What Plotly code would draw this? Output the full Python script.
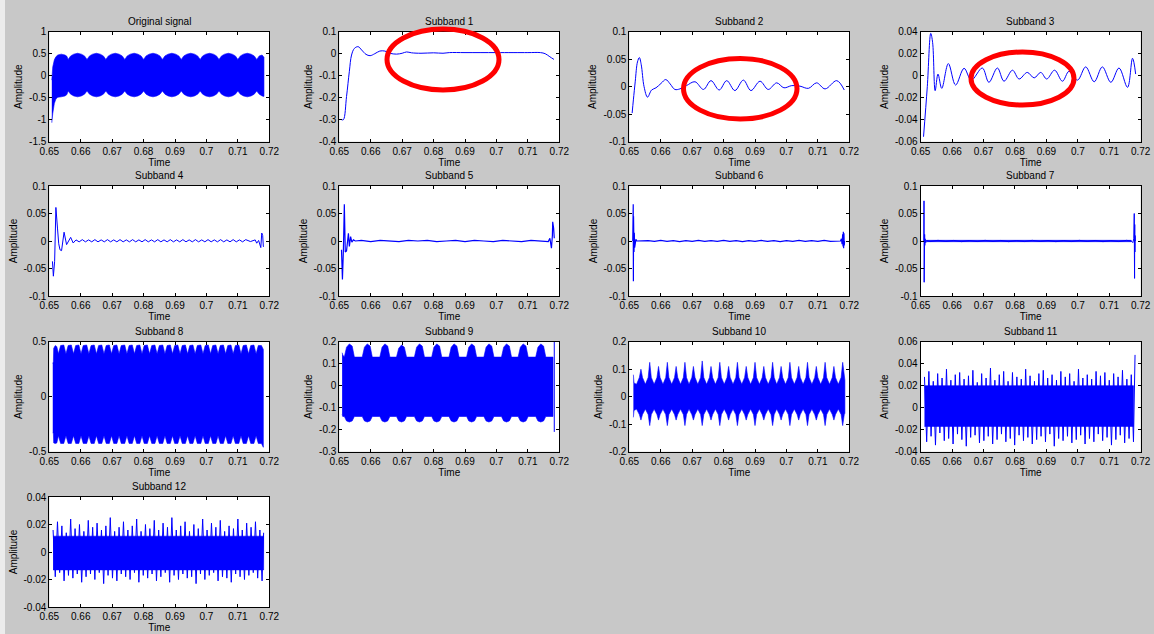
import plotly.graph_objects as go

W, H = 1154, 634
BLUE = "#0000ff"
FONT = "Liberation Sans, Arial, sans-serif"

titles = ["Original signal", "Subband 1", "Subband 2", "Subband 3", "Subband 4", "Subband 5",
          "Subband 6", "Subband 7", "Subband 8", "Subband 9", "Subband 10", "Subband 11", "Subband 12"]
x_ticks = [0.65, 0.66, 0.67, 0.68, 0.69, 0.70, 0.71, 0.72]
x_ticktext = ["0.65", "0.66", "0.67", "0.68", "0.69", "0.7", "0.71", "0.72"]
y_ticks = [
    [-1.5, -1, -0.5, 0, 0.5, 1],
    [-0.4, -0.3, -0.2, -0.1, 0, 0.1],
    [-0.1, -0.05, 0, 0.05, 0.1],
    [-0.06, -0.04, -0.02, 0, 0.02, 0.04],
    [-0.1, -0.05, 0, 0.05, 0.1],
    [-0.1, -0.05, 0, 0.05, 0.1],
    [-0.1, -0.05, 0, 0.05, 0.1],
    [-0.1, -0.05, 0, 0.05, 0.1],
    [-0.5, 0, 0.5],
    [-0.3, -0.2, -0.1, 0, 0.1, 0.2],
    [-0.2, -0.1, 0, 0.1, 0.2],
    [-0.04, -0.02, 0, 0.02, 0.04, 0.06],
    [-0.04, -0.02, 0, 0.02, 0.04],
]

# ---------------- data ----------------
orig_t = [0.6508, 0.6511, 0.6516, 0.6521, 0.6527, 0.6538, 0.6550, 0.6556,
          0.6560, 0.6568, 0.6578, 0.6590, 0.6602, 0.6612,
          0.6620, 0.6628, 0.6638, 0.6650, 0.6662, 0.6672,
          0.6680, 0.6688, 0.6698, 0.6710, 0.6722, 0.6732,
          0.6740, 0.6748, 0.6758, 0.6770, 0.6782, 0.6792,
          0.6800, 0.6808, 0.6818, 0.6830, 0.6842, 0.6852,
          0.6860, 0.6868, 0.6878, 0.6890, 0.6902, 0.6912,
          0.6920, 0.6928, 0.6938, 0.6950, 0.6962, 0.6972,
          0.6980, 0.6988, 0.6998, 0.7010, 0.7022, 0.7032,
          0.7040, 0.7048, 0.7058, 0.7070, 0.7082, 0.7092,
          0.7100, 0.7108, 0.7118, 0.7130, 0.7142, 0.7152,
          0.7160, 0.7168, 0.7177, 0.7183]
orig_up = [-0.10, 0.20, 0.36, 0.43, 0.47, 0.49, 0.47, 0.44,
           0.37, 0.45, 0.49, 0.51, 0.49, 0.45,
           0.37, 0.45, 0.49, 0.51, 0.49, 0.45,
           0.37, 0.45, 0.49, 0.51, 0.49, 0.45,
           0.37, 0.45, 0.49, 0.51, 0.49, 0.45,
           0.37, 0.45, 0.49, 0.51, 0.49, 0.45,
           0.37, 0.45, 0.49, 0.51, 0.49, 0.45,
           0.37, 0.45, 0.49, 0.51, 0.49, 0.45,
           0.37, 0.45, 0.49, 0.51, 0.49, 0.45,
           0.37, 0.45, 0.49, 0.51, 0.49, 0.45,
           0.37, 0.45, 0.49, 0.51, 0.49, 0.45,
           0.37, 0.45, 0.47, 0.42]
orig_lo = [-1.07, -0.86, -0.63, -0.53, -0.49, -0.48, -0.46, -0.43,
           -0.35, -0.42, -0.46, -0.48, -0.46, -0.42,
           -0.35, -0.42, -0.46, -0.48, -0.46, -0.42,
           -0.35, -0.42, -0.46, -0.48, -0.46, -0.42,
           -0.35, -0.42, -0.46, -0.48, -0.46, -0.42,
           -0.35, -0.42, -0.46, -0.48, -0.46, -0.42,
           -0.35, -0.42, -0.46, -0.48, -0.46, -0.42,
           -0.35, -0.42, -0.46, -0.48, -0.46, -0.42,
           -0.35, -0.42, -0.46, -0.48, -0.46, -0.42,
           -0.35, -0.42, -0.46, -0.48, -0.46, -0.42,
           -0.35, -0.42, -0.46, -0.48, -0.46, -0.42,
           -0.35, -0.42, -0.46, -0.47]

sb1_t = [0.6507, 0.6513, 0.6523, 0.6532, 0.6539, 0.6548, 0.6560, 0.6571, 0.6585, 0.6598,
         0.6613, 0.6629, 0.6645, 0.6661, 0.6682, 0.6700, 0.6714, 0.6730, 0.6760, 0.6800,
         0.6830, 0.6850, 0.6900, 0.7000, 0.7100, 0.7140, 0.7155, 0.7170, 0.7183]
sb1_v = [-0.30, -0.30, -0.195, -0.08, -0.006, 0.024, 0.032, 0.017, -0.003, -0.009,
         0.000, 0.012, 0.012, 0.002, -0.002, 0.002, 0.008, 0.004, 0.002, 0.004,
         0.002, 0.005, 0.005, 0.005, 0.005, 0.005, 0.000, -0.014, -0.026]

sb2_t = [0.6509, 0.6513, 0.6519, 0.6526, 0.6532, 0.6538, 0.6547, 0.6558, 0.6571, 0.6585,
         0.6601, 0.6616, 0.6630, 0.6645, 0.6661, 0.6682, 0.6709, 0.6736, 0.6760, 0.6786,
         0.6810, 0.6836, 0.6863, 0.6887, 0.6916, 0.6942, 0.6969, 0.6992, 0.7017, 0.7043,
         0.7070, 0.7096, 0.7123, 0.7160, 0.7184]
sb2_v = [-0.048, -0.024, 0.010, 0.045, 0.053, 0.040, 0.000, -0.019, -0.006, -0.002,
         0.006, 0.013, 0.005, -0.005, -0.004, 0.002, 0.009, -0.005, 0.011, -0.006,
         0.011, -0.007, 0.012, -0.007, 0.010, -0.005, 0.007, -0.002, 0.002, 0.001,
         -0.003, 0.007, -0.004, 0.011, -0.006]

sb3_t = [0.6509, 0.6521, 0.6532, 0.6538, 0.6546, 0.6555, 0.6567, 0.6588, 0.6611, 0.6638,
         0.6661, 0.6696, 0.6717, 0.6744, 0.6765, 0.6792, 0.6813, 0.6839, 0.6861, 0.6882,
         0.6901, 0.6926, 0.6951, 0.6972, 0.6999, 0.7025, 0.7052, 0.7078, 0.7105, 0.7131,
         0.7158, 0.7174, 0.7184]
sb3_v = [-0.0555, -0.010, 0.0385, 0.030, -0.0136, 0.0015, -0.0115, 0.011, -0.0085, 0.0067,
         -0.004, 0.007, -0.006, 0.007, -0.005, 0.005, -0.003, 0.003, -0.002, 0.003,
         -0.003, 0.005, -0.005, 0.004, -0.004, 0.008, -0.0055, 0.008, -0.006, 0.007,
         -0.0106, 0.0158, 0.0015]

sb4_t = [0.6510, 0.6513, 0.6517, 0.6521, 0.6526, 0.6530, 0.6534, 0.6539, 0.6547, 0.6555,
         0.6568, 0.6576,
         0.6585, 0.6595, 0.6605, 0.6615, 0.6625, 0.6635, 0.6645, 0.6655, 0.6665, 0.6675,
         0.6685, 0.6695, 0.6705, 0.6715, 0.6725, 0.6735, 0.6745, 0.6755, 0.6765, 0.6775,
         0.6785, 0.6795, 0.6805, 0.6815, 0.6825, 0.6835, 0.6845, 0.6855, 0.6865, 0.6875,
         0.6885, 0.6895, 0.6905, 0.6915, 0.6925, 0.6935, 0.6945, 0.6955, 0.6965, 0.6975,
         0.6985, 0.6995, 0.7005, 0.7015, 0.7025, 0.7035, 0.7045, 0.7055, 0.7065, 0.7075,
         0.7085, 0.7095, 0.7105, 0.7115, 0.7125,
         0.7140, 0.7155, 0.7160, 0.7166, 0.7170, 0.7173, 0.7176, 0.7179, 0.7181, 0.7183]
sb4_v = [-0.037, -0.064, -0.037, 0.061, 0.0235, -0.005, -0.016, -0.0175, 0.016, -0.0066,
         0.0066, -0.0036,
         0.002, -0.0015, 0.0025, -0.0015, 0.002, -0.0015, 0.0025, -0.0015, 0.002, -0.0015,
         0.0025, -0.0015, 0.002, -0.0015, 0.0025, -0.0015, 0.002, -0.0015, 0.0025, -0.0015,
         0.002, -0.0015, 0.0025, -0.0015, 0.002, -0.0015, 0.0025, -0.0015, 0.002, -0.0015,
         0.0025, -0.0015, 0.002, -0.0015, 0.0025, -0.0015, 0.002, -0.0015, 0.0025, -0.0015,
         0.002, -0.0015, 0.0025, -0.0015, 0.002, -0.0015, 0.0025, -0.0015, 0.002, -0.0015,
         0.0025, -0.0015, 0.002, -0.0015, 0.0025,
         -0.001, 0.002, -0.004, 0.001, -0.010, -0.012, 0.0145, 0.010, -0.010, -0.010]

sb5_t = [0.6507, 0.6510, 0.6513, 0.6516, 0.6519, 0.6523, 0.6529, 0.6532, 0.6536, 0.6540,
         0.6545, 0.6551,
         0.6570, 0.6600, 0.6630, 0.6660, 0.6690, 0.6720, 0.6750, 0.6780, 0.6810, 0.6840,
         0.6870, 0.6900, 0.6930, 0.6960, 0.6990, 0.7020, 0.7050, 0.7080, 0.7110, 0.7140,
         0.7160, 0.7165, 0.7170, 0.7175, 0.7178, 0.7179, 0.7182, 0.7184]
sb5_v = [-0.016, -0.070, -0.017, 0.067, -0.020, -0.018, 0.014, -0.010, 0.008, -0.002,
         0.002, 0.000,
         0.001, -0.001, 0.001, 0.000, -0.001, 0.001, 0.000, 0.001, -0.001, 0.000,
         0.001, -0.001, 0.001, 0.000, -0.001, 0.001, 0.000, -0.001, 0.001, 0.000,
         0.000, -0.001, 0.005, -0.013, 0.010, 0.035, 0.023, 0.005]

sb6_t = [0.6511, 0.65125, 0.6513, 0.65135, 0.6514, 0.65145, 0.6515, 0.6516, 0.6517, 0.6518,
         0.6519, 0.6521, 0.6524,
         0.6560, 0.6580, 0.6600, 0.6620, 0.6640, 0.6660, 0.6680, 0.6700, 0.6720, 0.6740,
         0.6760, 0.6780, 0.6800, 0.6820, 0.6840, 0.6860, 0.6880, 0.6900, 0.6920, 0.6940,
         0.6960, 0.6980, 0.7000, 0.7020, 0.7040, 0.7060, 0.7080, 0.7100, 0.7120, 0.7140,
         0.7172, 0.7175, 0.7177, 0.7179, 0.7180, 0.7181, 0.7182, 0.7183, 0.7184, 0.7185]
sb6_v = [0.000, 0.067, -0.073, 0.045, -0.035, 0.030, -0.020, 0.015, -0.012, 0.012,
         -0.005, 0.003, 0.000,
         0.0008, -0.0008, 0.0010, -0.0006, 0.0008, -0.0010, 0.0006, -0.0008, 0.0010, -0.0008,
         0.0008, -0.0006, 0.0010, -0.0008, 0.0006, -0.0010, 0.0008, -0.0008, 0.0010, -0.0006,
         0.0008, -0.0010, 0.0006, -0.0008, 0.0010, -0.0008, 0.0008, -0.0006, 0.0010, -0.0008,
         0.000, 0.004, -0.006, 0.012, -0.010, 0.017, -0.013, 0.014, -0.008, 0.000]

sb7_t = [0.6510, 0.65105, 0.6511, 0.65115, 0.6512, 0.65125, 0.6513, 0.6514, 0.6516, 0.6518,
         0.6530, 0.6555, 0.6580, 0.6605, 0.6630, 0.6655, 0.6680, 0.6705, 0.6730, 0.6755,
         0.6780, 0.6805, 0.6830, 0.6855, 0.6880, 0.6905, 0.6930, 0.6955, 0.6980, 0.7005,
         0.7030, 0.7055, 0.7080, 0.7105, 0.7130, 0.7155,
         0.7170, 0.7175, 0.7178, 0.71795, 0.7180, 0.71805, 0.7181, 0.71815, 0.7182, 0.7183]
sb7_v = [0.000, 0.073, -0.075, 0.055, -0.020, 0.012, -0.008, 0.004, -0.003, 0.001,
         -0.0010, 0.0012, -0.0008, 0.0010, -0.0012, 0.0008, -0.0010, 0.0012, -0.0008, 0.0010,
         -0.0012, 0.0008, -0.0010, 0.0012, -0.0008, 0.0010, -0.0012, 0.0008, -0.0010, 0.0012,
         -0.0008, 0.0010, -0.0012, 0.0008, -0.0010, 0.0012,
         0.000, -0.003, 0.004, 0.050, -0.025, -0.068, 0.030, -0.020, 0.010, 0.000]
sb7_band = [0.0012, -0.0012]

sb8_t = [0.6511, 0.6513, 0.6514, 0.6519, 0.6524,
         0.6529, 0.6536, 0.6546, 0.6553, 0.6560, 0.6570, 0.6577, 0.6584, 0.6594,
         0.6601, 0.6608, 0.6619, 0.6626, 0.6633, 0.6643, 0.6650, 0.6657, 0.6667,
         0.6674, 0.6681, 0.6691, 0.6698, 0.6705, 0.6715, 0.6722, 0.6729, 0.6740,
         0.6747, 0.6754, 0.6764, 0.6771, 0.6778, 0.6788, 0.6795, 0.6802, 0.6812,
         0.6819, 0.6826, 0.6836, 0.6843, 0.6850, 0.6861, 0.6868, 0.6875, 0.6885,
         0.6892, 0.6899, 0.6909, 0.6916, 0.6923, 0.6933, 0.6940, 0.6947, 0.6957,
         0.6964, 0.6971, 0.6982, 0.6989, 0.6996, 0.7006, 0.7013, 0.7020, 0.7030,
         0.7037, 0.7044, 0.7054, 0.7061, 0.7068, 0.7078, 0.7085, 0.7092, 0.7103,
         0.7110, 0.7117, 0.7127, 0.7134, 0.7141, 0.7151,
         0.7158, 0.7165, 0.7175, 0.7181]
sb8_up = [0.30, 0.32, 0.44, 0.465, 0.455,
          0.39, 0.465, 0.47, 0.39, 0.465, 0.47, 0.39, 0.465, 0.47,
          0.39, 0.465, 0.47, 0.39, 0.465, 0.47, 0.39, 0.465, 0.47,
          0.39, 0.465, 0.47, 0.39, 0.465, 0.47, 0.39, 0.465, 0.47,
          0.39, 0.465, 0.47, 0.39, 0.465, 0.47, 0.39, 0.465, 0.47,
          0.39, 0.465, 0.47, 0.39, 0.465, 0.47, 0.39, 0.465, 0.47,
          0.39, 0.465, 0.47, 0.39, 0.465, 0.47, 0.39, 0.465, 0.47,
          0.39, 0.465, 0.47, 0.39, 0.465, 0.47, 0.39, 0.465, 0.47,
          0.39, 0.465, 0.47, 0.39, 0.465, 0.47, 0.39, 0.465, 0.47,
          0.39, 0.465, 0.47, 0.39, 0.465, 0.47,
          0.39, 0.465, 0.465, 0.43]
sb8_lo = [-0.33, -0.33, -0.42, -0.425, -0.42,
          -0.355, -0.425, -0.425, -0.355, -0.425, -0.425, -0.355, -0.425, -0.425,
          -0.355, -0.425, -0.425, -0.355, -0.425, -0.425, -0.355, -0.425, -0.425,
          -0.355, -0.425, -0.425, -0.355, -0.425, -0.425, -0.355, -0.425, -0.425,
          -0.355, -0.425, -0.425, -0.355, -0.425, -0.425, -0.355, -0.425, -0.425,
          -0.355, -0.425, -0.425, -0.355, -0.425, -0.425, -0.355, -0.425, -0.425,
          -0.355, -0.425, -0.425, -0.355, -0.425, -0.425, -0.355, -0.425, -0.425,
          -0.355, -0.425, -0.425, -0.355, -0.425, -0.425, -0.355, -0.425, -0.425,
          -0.355, -0.425, -0.425, -0.355, -0.425, -0.425, -0.355, -0.425, -0.425,
          -0.355, -0.425, -0.425, -0.355, -0.425, -0.425,
          -0.355, -0.425, -0.425, -0.46]

sb9_t = [0.6509, 0.6511,
         0.6516, 0.6523, 0.6532, 0.6541, 0.6548,
         0.6573, 0.6580, 0.6589, 0.6598, 0.6605,
         0.6629, 0.6636, 0.6645, 0.6654, 0.6661,
         0.6682, 0.6689, 0.6698, 0.6707, 0.6714,
         0.6739, 0.6746, 0.6755, 0.6764, 0.6771,
         0.6794, 0.6801, 0.6810, 0.6819, 0.6826,
         0.6849, 0.6856, 0.6865, 0.6874, 0.6881,
         0.6905, 0.6912, 0.6921, 0.6930, 0.6937,
         0.6960, 0.6967, 0.6976, 0.6985, 0.6992,
         0.7016, 0.7023, 0.7032, 0.7041, 0.7048,
         0.7069, 0.7076, 0.7085, 0.7094, 0.7101,
         0.7125, 0.7132, 0.7141, 0.7150, 0.7157,
         0.7170, 0.7180]
sb9_up = [0.15, 0.14,
          0.13, 0.175, 0.19, 0.18, 0.13,
          0.13, 0.175, 0.19, 0.18, 0.13,
          0.13, 0.175, 0.19, 0.18, 0.13,
          0.13, 0.170, 0.185, 0.175, 0.13,
          0.13, 0.175, 0.19, 0.18, 0.13,
          0.13, 0.175, 0.19, 0.18, 0.13,
          0.13, 0.175, 0.19, 0.18, 0.13,
          0.13, 0.175, 0.19, 0.18, 0.13,
          0.13, 0.175, 0.19, 0.18, 0.13,
          0.13, 0.175, 0.19, 0.18, 0.13,
          0.13, 0.175, 0.19, 0.18, 0.13,
          0.13, 0.175, 0.19, 0.18, 0.13,
          0.13, 0.13]
sb9_lo = [-0.13, -0.14,
          -0.14, -0.16, -0.165, -0.16, -0.14,
          -0.14, -0.16, -0.165, -0.16, -0.14,
          -0.14, -0.16, -0.165, -0.16, -0.14,
          -0.14, -0.16, -0.165, -0.16, -0.14,
          -0.14, -0.16, -0.165, -0.16, -0.14,
          -0.14, -0.16, -0.165, -0.16, -0.14,
          -0.14, -0.16, -0.165, -0.16, -0.14,
          -0.14, -0.16, -0.165, -0.16, -0.14,
          -0.14, -0.16, -0.165, -0.16, -0.14,
          -0.14, -0.16, -0.165, -0.16, -0.14,
          -0.14, -0.16, -0.165, -0.16, -0.14,
          -0.14, -0.16, -0.165, -0.16, -0.14,
          -0.14, -0.14]
sb9_spike_t = [0.7184, 0.7184]
sb9_spike_v = [0.20, -0.21]

sb10_t = [0.6513, 0.6515,
          0.6523, 0.6532, 0.6537, 0.6542, 0.6551, 0.6560, 0.6565, 0.6570,
          0.6579, 0.6588, 0.6593, 0.6598, 0.6607, 0.6616, 0.6621, 0.6626,
          0.6635, 0.6644, 0.6649, 0.6654, 0.6663, 0.6672, 0.6677, 0.6682,
          0.6690, 0.6699, 0.6704, 0.6709, 0.6718, 0.6727, 0.6732, 0.6737,
          0.6746, 0.6755, 0.6760, 0.6765, 0.6774, 0.6783, 0.6788, 0.6793,
          0.6802, 0.6811, 0.6816, 0.6821, 0.6830, 0.6839, 0.6844, 0.6849,
          0.6858, 0.6867, 0.6872, 0.6877, 0.6886, 0.6895, 0.6900, 0.6905,
          0.6914, 0.6923, 0.6928, 0.6933, 0.6942, 0.6951, 0.6956, 0.6961,
          0.6969, 0.6978, 0.6983, 0.6988, 0.6997, 0.7006, 0.7011, 0.7016,
          0.7025, 0.7034, 0.7039, 0.7044, 0.7053, 0.7062, 0.7067, 0.7072,
          0.7081, 0.7090, 0.7095, 0.7100, 0.7109, 0.7118, 0.7123, 0.7128,
          0.7137, 0.7146, 0.7151, 0.7156, 0.7165, 0.7174, 0.7179, 0.7184,
          0.7186]
sb10_up = [0.08, 0.05,
           0.045, 0.07, 0.100, 0.07, 0.045, 0.07, 0.125, 0.07,
           0.045, 0.07, 0.110, 0.07, 0.045, 0.07, 0.125, 0.07,
           0.045, 0.07, 0.110, 0.07, 0.045, 0.07, 0.125, 0.07,
           0.045, 0.07, 0.110, 0.07, 0.045, 0.07, 0.130, 0.07,
           0.045, 0.07, 0.110, 0.07, 0.045, 0.07, 0.125, 0.07,
           0.045, 0.07, 0.110, 0.07, 0.045, 0.07, 0.125, 0.07,
           0.045, 0.07, 0.110, 0.07, 0.045, 0.07, 0.125, 0.07,
           0.045, 0.07, 0.110, 0.07, 0.045, 0.07, 0.125, 0.07,
           0.045, 0.07, 0.110, 0.07, 0.045, 0.07, 0.125, 0.07,
           0.045, 0.07, 0.110, 0.07, 0.045, 0.07, 0.125, 0.07,
           0.045, 0.07, 0.110, 0.07, 0.045, 0.07, 0.125, 0.07,
           0.045, 0.07, 0.110, 0.07, 0.045, 0.07, 0.125, 0.07,
           0.06]
sb10_lo = [-0.075, -0.05,
           -0.045, -0.065, -0.085, -0.065, -0.045, -0.065, -0.105, -0.065,
           -0.045, -0.065, -0.085, -0.065, -0.045, -0.065, -0.105, -0.065,
           -0.045, -0.065, -0.085, -0.065, -0.045, -0.065, -0.105, -0.065,
           -0.045, -0.065, -0.085, -0.065, -0.045, -0.065, -0.105, -0.065,
           -0.045, -0.065, -0.085, -0.065, -0.045, -0.065, -0.105, -0.065,
           -0.045, -0.065, -0.085, -0.065, -0.045, -0.065, -0.105, -0.065,
           -0.045, -0.065, -0.085, -0.065, -0.045, -0.065, -0.105, -0.065,
           -0.045, -0.065, -0.085, -0.065, -0.045, -0.065, -0.105, -0.065,
           -0.045, -0.065, -0.085, -0.065, -0.045, -0.065, -0.105, -0.065,
           -0.045, -0.065, -0.085, -0.065, -0.045, -0.065, -0.105, -0.065,
           -0.045, -0.065, -0.085, -0.065, -0.045, -0.065, -0.105, -0.065,
           -0.045, -0.065, -0.085, -0.065, -0.045, -0.065, -0.105, -0.065,
           -0.06]

noise_t = [0.6512, 0.6519, 0.6526, 0.6533, 0.6540, 0.6547, 0.6554, 0.6561, 0.6568, 0.6575,
           0.6582, 0.6589, 0.6596, 0.6603, 0.6610, 0.6617, 0.6624, 0.6631, 0.6638, 0.6645,
           0.6652, 0.6659, 0.6666, 0.6673, 0.6680, 0.6687, 0.6694, 0.6701, 0.6708, 0.6715,
           0.6722, 0.6729, 0.6736, 0.6743, 0.6750, 0.6757, 0.6764, 0.6771, 0.6778, 0.6785,
           0.6792, 0.6799, 0.6806, 0.6813, 0.6820, 0.6827, 0.6834, 0.6841, 0.6848, 0.6855,
           0.6862, 0.6869, 0.6876, 0.6883, 0.6890, 0.6897, 0.6904, 0.6911, 0.6918, 0.6925,
           0.6932, 0.6939, 0.6946, 0.6953, 0.6960, 0.6967, 0.6974, 0.6981, 0.6988, 0.6995,
           0.7002, 0.7009, 0.7016, 0.7023, 0.7030, 0.7037, 0.7044, 0.7051, 0.7058, 0.7065,
           0.7072, 0.7079, 0.7086, 0.7093, 0.7100, 0.7107, 0.7114, 0.7121, 0.7128, 0.7135,
           0.7142, 0.7149, 0.7156, 0.7163, 0.7170, 0.7177, 0.7182]
sb11_v = [0.028, -0.031, 0.033, -0.026, 0.024, -0.034, 0.031, -0.023, 0.027, -0.030,
          0.035, -0.028, 0.025, -0.033, 0.030, -0.024, 0.032, -0.029, 0.026, -0.035,
          0.029, -0.027, 0.034, -0.025, 0.023, -0.032, 0.031, -0.030, 0.027, -0.026,
          0.036, -0.033, 0.025, -0.029, 0.030, -0.024, 0.033, -0.031, 0.024, -0.028,
          0.032, -0.034, 0.028, -0.025, 0.026, -0.030, 0.035, -0.027, 0.029, -0.033,
          0.024, -0.029, 0.031, -0.026, 0.034, -0.031, 0.027, -0.024, 0.030, -0.035,
          0.025, -0.028, 0.033, -0.030, 0.028, -0.026, 0.031, -0.032, 0.024, -0.029,
          0.035, -0.025, 0.027, -0.033, 0.030, -0.028, 0.026, -0.031, 0.033, -0.024,
          0.029, -0.030, 0.032, -0.027, 0.025, -0.034, 0.031, -0.029, 0.028, -0.025,
          0.034, -0.032, 0.026, -0.028, 0.030, -0.031, 0.048]
sb11_core = [0.020, -0.017]
sb12_v = [0.016, -0.018, 0.022, -0.015, 0.019, -0.021, 0.014, -0.017, 0.024, -0.019,
          0.017, -0.016, 0.020, -0.022, 0.015, -0.018, 0.023, -0.016, 0.018, -0.020,
          0.021, -0.015, 0.016, -0.023, 0.019, -0.017, 0.025, -0.019, 0.015, -0.021,
          0.018, -0.016, 0.022, -0.018, 0.016, -0.020, 0.019, -0.015, 0.024, -0.022,
          0.015, -0.017, 0.020, -0.019, 0.017, -0.016, 0.023, -0.021, 0.016, -0.018,
          0.021, -0.015, 0.018, -0.022, 0.025, -0.017, 0.016, -0.020, 0.019, -0.016,
          0.022, -0.019, 0.015, -0.018, 0.020, -0.023, 0.017, -0.016, 0.024, -0.020,
          0.016, -0.017, 0.021, -0.015, 0.018, -0.021, 0.023, -0.018, 0.015, -0.019,
          0.019, -0.022, 0.017, -0.016, 0.024, -0.018, 0.016, -0.020, 0.021, -0.017,
          0.018, -0.015, 0.022, -0.019, 0.016, -0.021, 0.014]
sb12_core = [0.0115, -0.013]

# ---------------- layout geometry (pixels) ----------------
col_left = [49.3, 339.3, 629.3, 920.7]
row_top = [31.7, 186.0, 341.7, 497.0]
AX_W, AX_H = 220.0, 110.0

fig = go.Figure()


def ax_names(i):
    s = "" if i == 0 else str(i + 1)
    return "x" + s, "y" + s


def line(i, t, v, width=1.0, shape="linear"):
    xa, ya = ax_names(i)
    fig.add_trace(go.Scatter(x=t, y=v, mode="lines", xaxis=xa, yaxis=ya,
                             line=dict(color=BLUE, width=width, shape=shape),
                             hoverinfo="skip", showlegend=False))


def band(i, t, up, lo):
    xa, ya = ax_names(i)
    xs = list(t) + list(t)[::-1]
    ys = list(up) + list(lo)[::-1]
    fig.add_trace(go.Scatter(x=xs, y=ys, mode="lines", fill="toself", fillcolor=BLUE,
                             xaxis=xa, yaxis=ya, line=dict(color=BLUE, width=0.6),
                             hoverinfo="skip", showlegend=False))


band(0, orig_t, orig_up, orig_lo)
line(1, sb1_t, sb1_v, 1.0, "spline")
line(2, sb2_t, sb2_v, 1.0, "spline")
line(3, sb3_t, sb3_v, 1.0, "spline")
line(4, sb4_t, sb4_v, 1.0)
line(5, sb5_t, sb5_v, 1.2)
line(6, sb6_t, sb6_v, 1.2)
band(7, [sb7_t[9], sb7_t[36]], [sb7_band[0]] * 2, [sb7_band[1]] * 2)
line(7, sb7_t, sb7_v, 1.0)
band(8, sb8_t, sb8_up, sb8_lo)
band(9, sb9_t, sb9_up, sb9_lo)
line(9, sb9_spike_t, sb9_spike_v, 1.0)
band(10, sb10_t, sb10_up, sb10_lo)
band(11, [noise_t[0], noise_t[-2]], [sb11_core[0]] * 2, [sb11_core[1]] * 2)
line(11, noise_t, sb11_v, 1.0)
band(12, [noise_t[0], noise_t[-1]], [sb12_core[0]] * 2, [sb12_core[1]] * 2)
line(12, noise_t, sb12_v, 1.0)

layout = dict(
    template="none",
    width=W, height=H, margin=dict(l=0, r=0, t=0, b=0, pad=0),
    paper_bgcolor="#c8c8c8", plot_bgcolor="#ffffff",
    font=dict(family=FONT, size=10, color="#000000"),
    hovermode=False, showlegend=False,
)
annotations = []
for i in range(13):
    r, c = divmod(i, 4)
    left, top = col_left[c], row_top[r]
    xd = [left / W, (left + AX_W) / W]
    yd = [1 - (top + AX_H) / H, 1 - top / H]
    xa, ya = ax_names(i)
    xkey = "xaxis" if i == 0 else "xaxis" + str(i + 1)
    ykey = "yaxis" if i == 0 else "yaxis" + str(i + 1)
    yt = y_ticks[i]
    layout[xkey] = dict(domain=xd, anchor=ya, range=[0.65, 0.72], tickvals=x_ticks,
                        ticktext=x_ticktext, ticks="inside", ticklen=3, tickcolor="#000",
                        showline=True, linecolor="#000", linewidth=1, mirror="ticks",
                        showgrid=False, zeroline=False, automargin=False,
                        tickfont=dict(size=10),
                        title=dict(text="Time", font=dict(size=10), standoff=1))
    layout[ykey] = dict(domain=yd, anchor=xa, range=[yt[0], yt[-1]], tickvals=yt,
                        ticktext=[f"{v:g}" for v in yt], ticks="inside", ticklen=3,
                        tickcolor="#000", showline=True, linecolor="#000", linewidth=1,
                        mirror="ticks", showgrid=False, zeroline=False, automargin=False,
                        tickfont=dict(size=10),
                        title=dict(text="Amplitude", font=dict(size=10), standoff=4))
    annotations.append(dict(text=titles[i], xref="paper", yref="paper",
                            x=(left + AX_W / 2) / W, y=1 - top / H, xanchor="center",
                            yanchor="bottom", yshift=3, showarrow=False,
                            font=dict(size=10, color="#000")))
layout["annotations"] = annotations

ellipses_px = [(387, 29, 499, 90), (683.5, 58.5, 797, 119), (971, 52, 1074, 105)]
shapes = [dict(type="rect", xref="paper", yref="paper", x0=0, x1=5 / W, y0=0, y1=1,
               fillcolor="#ececec", line=dict(width=0), layer="below")]
for (x0, y0, x1, y1) in ellipses_px:
    shapes.append(dict(type="circle", xref="paper", yref="paper",
                       x0=x0 / W, x1=x1 / W, y0=1 - y1 / H, y1=1 - y0 / H,
                       line=dict(color="#ff0000", width=5), layer="above"))
layout["shapes"] = shapes

fig.update_layout(**layout)
fig.write_html("out.html")
